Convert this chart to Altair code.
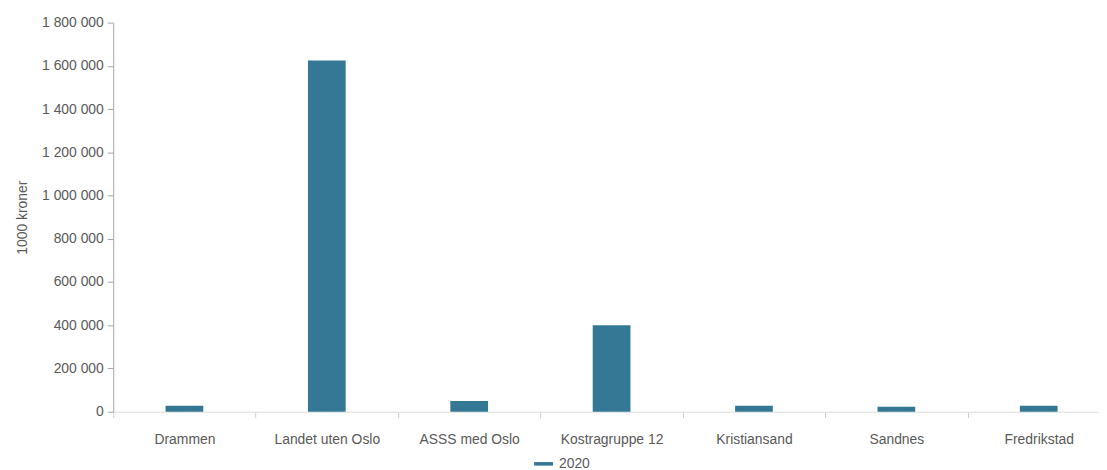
import altair as alt
import pandas as pd

categories = ["Drammen", "Landet uten Oslo", "ASSS med Oslo", "Kostragruppe 12",
              "Kristiansand", "Sandnes", "Fredrikstad"]
values = [27500, 1625000, 50000, 400000, 27500, 23000, 27500]
series = ["2020"] * len(categories)
y_ticks = [0, 200000, 400000, 600000, 800000, 1000000, 1200000, 1400000, 1600000, 1800000]

df = pd.DataFrame({"kategori": categories, "verdi": values, "aar": series})

FONT = "Liberation Sans"
TXT = "#595959"

chart = alt.Chart(df).mark_bar(size=38).encode(
    x=alt.X(
        "kategori:N", sort=categories, title=None,
        scale=alt.Scale(range=[0, 1004], paddingInner=0, paddingOuter=0),
        axis=alt.Axis(labelAngle=0, tickBand="extent", domainColor="#dcdcdc",
                      tickColor="#cfcfcf", tickSize=6, labelPadding=15,
                      labelFontSize=14, labelColor=TXT, labelFont=FONT),
    ),
    y=alt.Y(
        "verdi:Q", title="1000 kroner",
        scale=alt.Scale(domain=[0, 1800000], nice=False),
        axis=alt.Axis(values=y_ticks, grid=False,
                      labelExpr="replace(format(datum.value, ','), regexp(',', 'g'), ' ')",
                      domainColor="#a6a6a6", tickColor="#a6a6a6", tickSize=6,
                      labelPadding=4, labelFontSize=14, labelColor=TXT, labelFont=FONT,
                      titleFont=FONT, titleFontSize=14, titleColor=TXT,
                      titleFontWeight="normal", titlePadding=12),
    ),
    color=alt.Color(
        "aar:N", scale=alt.Scale(range=["#347895"]),
        legend=alt.Legend(orient="none", legendX=424, legendY=435, title=None,
                          direction="horizontal", padding=0,
                          symbolType="M-1,-0.19L1,-0.19L1,0.19L-1,0.19Z",
                          symbolSize=361, symbolStrokeWidth=0, labelOffset=6,
                          labelFont=FONT, labelFontSize=14, labelColor=TXT),
    ),
).properties(
    width=993, height=392,
    autosize=alt.AutoSizeParams(type="none"),
    padding={"left": 106, "top": 13, "right": 0, "bottom": 57},
).configure_view(stroke=None)

chart.save("out.html", embed_options={"renderer": "svg", "actions": False})
